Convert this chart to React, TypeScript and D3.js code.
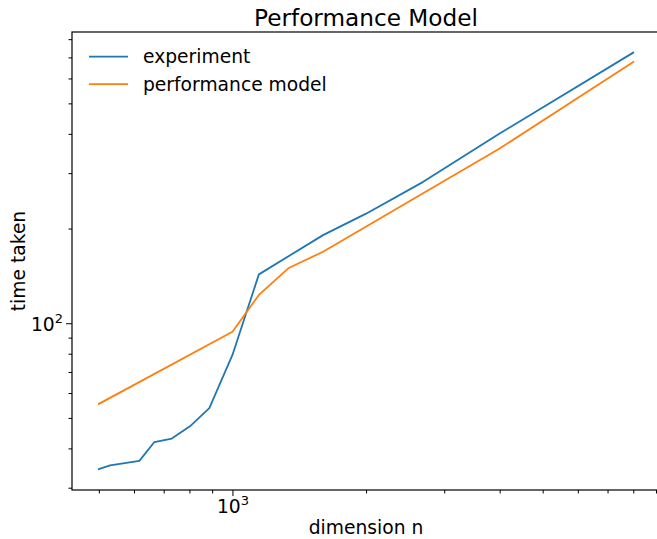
import { useEffect, useRef } from 'react';
import * as d3 from 'd3';

// experiment timings (n, seconds)
const expN = [500, 530, 617, 667, 730, 802, 887, 1000, 1147, 1600, 2000, 2690, 4000, 8000];
const expTime = [34.4, 35.3, 36.5, 41.9, 43.0, 47.0, 53.7, 79.3, 143, 190.6, 223, 281.5, 401, 725];

// performance model curve
const modelN = [500, 1000, 1147, 1336, 1600, 4000, 8000];
const modelTime = [55.4, 94.0, 123, 149.5, 168.8, 359.4, 677];

const seriesNames = ['experiment', 'performance model'];
const seriesColors = ['#1f77b4', '#ff7f0e'];

const xMajorTicks = [1000];
const xMinorTicks = [500, 600, 700, 800, 900, 2000, 3000, 4000, 5000, 6000, 7000, 8000, 9000];
const yMajorTicks = [100];
const yMinorTicks = [30, 40, 50, 60, 70, 80, 90, 200, 300, 400, 500, 600, 700, 800];

const App = () => {
    const svgRef = useRef<SVGSVGElement>(null);

    useEffect(() => {
        const width = 657;
        const height = 539;
        const margin = { top: 32, right: -3, bottom: 49, left: 72 };
        const font = 'DejaVu Sans, sans-serif';

        d3.select(svgRef.current).selectAll('*').remove();
        const svg = d3.select(svgRef.current)
            .attr('width', width)
            .attr('height', height);

        const x = d3.scaleLog()
            .domain([435, 9190])
            .range([margin.left, width - margin.right]);
        const y = d3.scaleLog()
            .domain([29.5, 843])
            .range([height - margin.bottom, margin.top]);

        const series = [
            d3.zip(expN, expTime),
            d3.zip(modelN, modelTime),
        ];

        const line = d3.line<number[]>()
            .x(d => x(d[0]))
            .y(d => y(d[1]));

        svg.append('g')
            .attr('fill', 'none')
            .attr('stroke-width', 1.8)
            .attr('stroke-linejoin', 'round')
            .attr('stroke-linecap', 'square')
            .selectAll('path')
            .data(series)
            .join('path')
            .attr('stroke', (_, i) => seriesColors[i])
            .attr('d', d => line(d));

        // x axis: major + minor ticks, no default labels
        const xAxisG = svg.append('g')
            .attr('transform', `translate(0, ${height - margin.bottom})`);
        xAxisG.call(d3.axisBottom(x).tickValues(xMinorTicks).tickSize(3.5).tickFormat(() => ''));
        xAxisG.call(g => g.selectAll('.domain').remove());
        const xMajor = svg.append('g')
            .attr('transform', `translate(0, ${height - margin.bottom})`)
            .call(d3.axisBottom(x).tickValues(xMajorTicks).tickSize(6).tickFormat(() => ''));
        xMajor.select('.domain').remove();
        xMajor.selectAll('.tick').append('text')
            .attr('fill', '#000')
            .attr('y', 23)
            .attr('text-anchor', 'middle')
            .attr('font-family', font)
            .attr('font-size', 18.7)
            .call(t => {
                t.append('tspan').text('10');
                t.append('tspan').attr('dy', -8).attr('font-size', 13).text('3');
            });

        // y axis
        const yAxisG = svg.append('g')
            .attr('transform', `translate(${margin.left}, 0)`);
        yAxisG.call(d3.axisLeft(y).tickValues(yMinorTicks).tickSize(3.5).tickFormat(() => ''));
        yAxisG.call(g => g.selectAll('.domain').remove());
        const yMajor = svg.append('g')
            .attr('transform', `translate(${margin.left}, 0)`)
            .call(d3.axisLeft(y).tickValues(yMajorTicks).tickSize(6).tickFormat(() => ''));
        yMajor.select('.domain').remove();
        yMajor.selectAll('.tick').append('text')
            .attr('fill', '#000')
            .attr('x', -9)
            .attr('y', 7)
            .attr('text-anchor', 'end')
            .attr('font-family', font)
            .attr('font-size', 18.7)
            .call(t => {
                t.append('tspan').text('10');
                t.append('tspan').attr('dy', -8).attr('font-size', 13).text('2');
            });
        svg.selectAll('.tick line').attr('stroke', '#000').attr('stroke-width', 1);

        // frame
        svg.append('rect')
            .attr('x', margin.left)
            .attr('y', margin.top)
            .attr('width', width - margin.right - margin.left)
            .attr('height', height - margin.bottom - margin.top)
            .attr('fill', 'none')
            .attr('stroke', '#000')
            .attr('stroke-width', 1.2);

        // labels
        svg.append('text')
            .attr('x', (margin.left + width - margin.right) / 2)
            .attr('y', 26)
            .attr('text-anchor', 'middle')
            .attr('font-family', font)
            .attr('font-size', 23.2)
            .text('Performance Model');
        svg.append('text')
            .attr('x', (margin.left + width - margin.right) / 2)
            .attr('y', 534)
            .attr('text-anchor', 'middle')
            .attr('font-family', font)
            .attr('font-size', 18.7)
            .text('dimension n');
        svg.append('text')
            .attr('transform', `translate(25, ${(margin.top + height - margin.bottom) / 2}) rotate(-90)`)
            .attr('text-anchor', 'middle')
            .attr('font-family', font)
            .attr('font-size', 18.7)
            .text('time taken');

        // legend, no frame
        const legend = svg.append('g')
            .selectAll('g')
            .data(seriesNames)
            .join('g')
            .attr('transform', (_, i) => `translate(89, ${56.7 + i * 27.5})`);
        legend.append('line')
            .attr('x2', 39)
            .attr('stroke', (_, i) => seriesColors[i])
            .attr('stroke-width', 1.8);
        legend.append('text')
            .attr('x', 54)
            .attr('y', 6.5)
            .attr('font-family', font)
            .attr('font-size', 18.7)
            .text(d => d);
    }, []);

    return (
        <svg ref={svgRef} style={{ position: 'absolute', left: 0, top: 0 }} />
    );
};

export default App;
